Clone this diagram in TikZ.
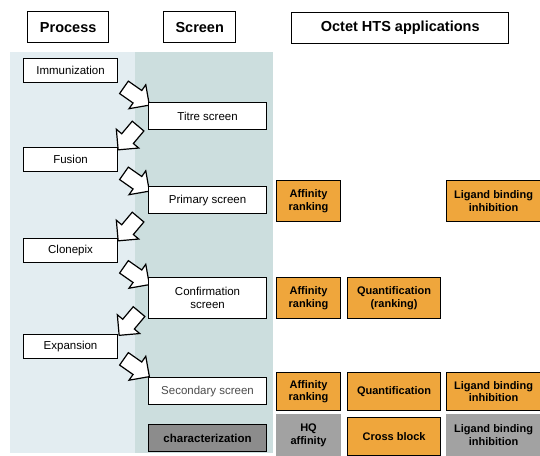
\documentclass[tikz,border=0pt]{standalone}
\usepackage{fontspec}
\setmainfont{Liberation Sans}
\usetikzlibrary{shapes.arrows,calc,backgrounds}

\definecolor{procbg}{HTML}{E3EDF1}
\definecolor{screenbg}{HTML}{CCDEDE}
\definecolor{octorange}{HTML}{EFA63C}
\definecolor{chargrey}{HTML}{8C8C8C}
\definecolor{hqgrey}{HTML}{A2A2A2}

\begin{document}
\begin{tikzpicture}[x=1pt, y=-1pt,
    header/.style = {draw, line width=1.4pt, fill=white, inner sep=0pt,
      anchor=north west, minimum height=31pt,
      font=\fontsize{14.5}{17}\selectfont\bfseries},
    procbox/.style = {draw, line width=1.1pt, fill=white, inner sep=0pt,
      anchor=north west, minimum width=94pt, minimum height=24pt,
      font=\fontsize{11.5}{13}\selectfont},
    screenbox/.style = {procbox, minimum width=118pt, minimum height=27pt,
      align=center},
    appbox/.style = {draw, line width=1.1pt, fill=octorange, inner sep=0pt,
      anchor=north west, minimum height=41pt, align=center,
      font=\fontsize{11}{12.5}\selectfont\bfseries},
    greybox/.style = {appbox, draw=hqgrey, fill=hqgrey},
    flowarrow/.style = {single arrow, draw, line width=1.2pt, fill=white,
      minimum height=31pt, text height=0pt, text depth=0pt,
      inner xsep=0pt, inner ysep=7pt,
      single arrow head extend=7pt, rotate=#1}
  ]
  \useasboundingbox (0,0) rectangle (540,455);

  % headers
  \node[header, minimum width=81pt] (hproc) at (27,11) {Process};
  \node[header, minimum width=72pt] (hscreen) at (163,11) {Screen};
  \node[header, minimum width=217pt] (hocta) at (291,12) {Octet HTS applications};

  % process steps
  \node[procbox] (imm) at (23,58) {Immunization};
  \node[procbox] (fus) at (23,147) {Fusion};
  \node[procbox] (clone) at (23,238) {Clonepix};
  \node[procbox] (expan) at (23,334) {Expansion};

  % screens
  \node[screenbox] (titre) at (148,102) {Titre screen};
  \node[screenbox] (prim) at (148,186) {Primary screen};
  \node[screenbox, minimum height=41pt] (conf) at (148,277) {Confirmation\\screen};
  \node[screenbox, text=black!70] (second) at (148,377) {Secondary screen};
  \node[screenbox, fill=chargrey, font=\fontsize{11.5}{13}\selectfont\bfseries]
    (charac) at (148,424) {characterization};

  \begin{scope}[on background layer]
    % column backgrounds
    \fill[procbg] (10,52) rectangle (135,453);
    \fill[screenbg] (135,52) rectangle (273,453);
    % block arrows between the two columns
    \node[flowarrow=-35] (a1) at ($(imm.south east)!0.5!(titre.north west)+(0.5,1.5)$) {};
    \node[flowarrow=-130] (a2) at ($(titre.south west)!0.5!(fus.north east)+(-2.5,-3.5)$) {};
    \node[flowarrow=-35] (a3) at ($(fus.south east)!0.5!(prim.north west)+(0.5,1)$) {};
    \node[flowarrow=-130] (a4) at ($(prim.south west)!0.5!(clone.north east)+(-2.5,0)$) {};
    \node[flowarrow=-35] (a5) at ($(clone.south east)!0.5!(conf.north west)+(0.5,3.5)$) {};
    \node[flowarrow=-130] (a6) at ($(conf.south west)!0.5!(expan.north east)+(-1.5,-6)$) {};
    \node[flowarrow=-35] (a7) at ($(expan.south east)!0.5!(second.north west)+(0.5,-2.5)$) {};
  \end{scope}

  % Octet applications
  \node[appbox, minimum width=64pt] (affprim) at (276,180) {Affinity\\ranking};
  \node[appbox, minimum width=94pt] (ligprim) at (446,180) {Ligand binding\\inhibition};

  \node[appbox, minimum width=64pt] (affconf) at (276,277) {Affinity\\ranking};
  \node[appbox, minimum width=93pt] (quantconf) at (347,277) {Quantification\\(ranking)};

  \node[appbox, minimum width=64pt, minimum height=38pt] (affsec) at (276,372) {Affinity\\ranking};
  \node[appbox, minimum width=93pt, minimum height=38pt] (quantsec) at (347,372) {Quantification};
  \node[appbox, minimum width=94pt, minimum height=38pt] (ligsec) at (446,372) {Ligand binding\\inhibition};

  \node[greybox, minimum width=64pt] (hqaff) at (276,414) {HQ\\affinity};
  \node[appbox, minimum width=93pt, minimum height=38pt] (cross) at (347,417) {Cross block};
  \node[greybox, minimum width=94pt] (ligchar) at (446,414) {Ligand binding\\inhibition};
\end{tikzpicture}
\end{document}
